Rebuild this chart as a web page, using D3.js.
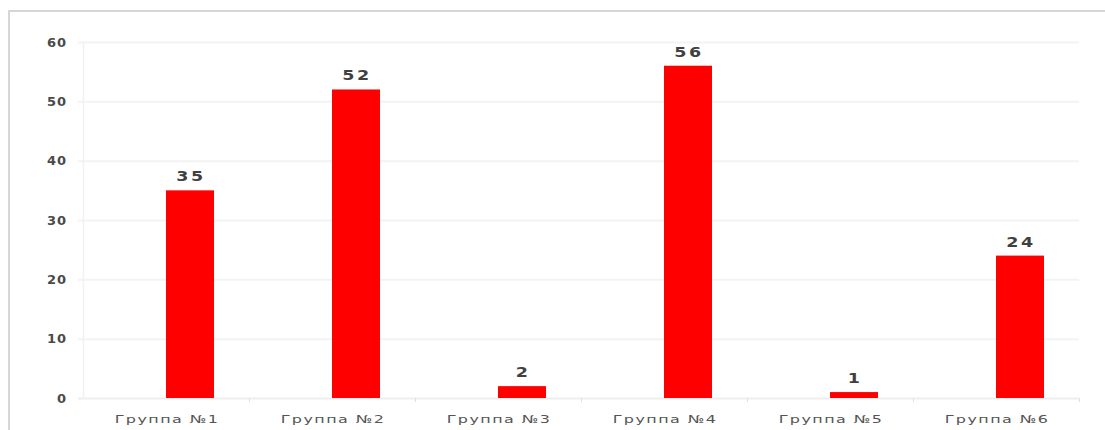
<!DOCTYPE html>
<html><head><meta charset="utf-8">
<script src="https://cdn.jsdelivr.net/npm/d3@7"></script>
<style>
html,body{margin:0;padding:0;background:#fff;}
svg{display:block;}
</style></head>
<body>
<svg id="c" width="1105" height="430"></svg>
<script>
const categories = ["Группа №1","Группа №2","Группа №3","Группа №4","Группа №5","Группа №6"];
const seriesNames = ["empty","value"];
const emptyValues = [0,0,0,0,0,0];
const values = [35,52,2,56,1,24];
const yTicks = [0,10,20,30,40,50,60];

const svg = d3.select("#c");
const W = 1105, H = 430;
const m = {left:83, right:1079, top:42, bottom:398};

// outer frame
svg.append("line").attr("x1",9).attr("x2",W).attr("y1",11).attr("y2",11).attr("stroke","#d6d6d6").attr("stroke-width",2);
svg.append("line").attr("x1",9).attr("x2",9).attr("y1",10).attr("y2",H).attr("stroke","#d6d6d6").attr("stroke-width",2);

const x0 = d3.scaleBand().domain(categories).range([m.left,m.right]).paddingInner(0).paddingOuter(0);
const x1 = d3.scaleBand().domain(seriesNames).range([0,x0.bandwidth()]).paddingInner(0).paddingOuter((x0.bandwidth()-96)/2/48);
const y = d3.scaleLinear().domain([0,60]).range([m.bottom,m.top]);

// gridlines
svg.append("g").selectAll("line").data(yTicks.filter(d=>d>0)).join("line")
  .attr("x1",78).attr("x2",m.right).attr("y1",d=>y(d)+0.5).attr("y2",d=>y(d)+0.5)
  .attr("stroke","#f3f3f3").attr("stroke-width",2);
// vertical axis line
svg.append("line").attr("x1",m.left+0.5).attr("x2",m.left+0.5).attr("y1",m.top).attr("y2",m.bottom)
  .attr("stroke","#f1f1f1").attr("stroke-width",1.5);
// baseline
svg.append("line").attr("x1",78).attr("x2",m.right).attr("y1",m.bottom+0.5).attr("y2",m.bottom+0.5)
  .attr("stroke","#eeeeee").attr("stroke-width",2);
// category boundary ticks
svg.append("g").selectAll("line").data(categories.slice(1)).join("line")
  .attr("x1",d=>x0(d)+0.5).attr("x2",d=>x0(d)+0.5).attr("y1",m.bottom).attr("y2",m.bottom+4)
  .attr("stroke","#e0e0e0").attr("stroke-width",1);
svg.append("line").attr("x1",m.right+0.5).attr("x2",m.right+0.5).attr("y1",m.bottom).attr("y2",m.bottom+4)
  .attr("stroke","#e0e0e0");

// y tick labels
svg.append("g").selectAll("text").data(yTicks).join("text")
  .attr("x",67).attr("y",d=>y(d)).attr("dy","0.35em").attr("text-anchor","end")
  .attr("font-family","DejaVu Sans, Verdana, sans-serif").attr("font-size",13).attr("font-weight","bold")
  .attr("letter-spacing",1).attr("fill","#4a4a4a").text(d=>d);

// bars
const bars = svg.append("g");
bars.selectAll("rect").data(values).join("rect")
  .attr("x",(d,i)=>x0(categories[i])+x1("value"))
  .attr("width",x1.bandwidth())
  .attr("y",d=>y(d))
  .attr("height",d=>y(0)-y(d))
  .attr("fill","#ff0000");

// value labels
svg.append("g").selectAll("text").data(values).join("text")
  .attr("transform",(d,i)=>`translate(${x0(categories[i])+x1("value")+x1.bandwidth()/2+1},${y(d)-9}) scale(1.25,1)`)
  .attr("text-anchor","middle")
  .attr("font-family","DejaVu Sans, Verdana, sans-serif").attr("font-size",14)
  .attr("letter-spacing",2).attr("fill","#404040").attr("font-weight","bold").text(d=>d);

// category labels
svg.append("g").selectAll("text").data(categories).join("text")
  .attr("transform",d=>`translate(${x0(d)+x0.bandwidth()/2+1},423) scale(1.45,1)`)
  .attr("text-anchor","middle")
  .attr("font-family","DejaVu Sans, Verdana, sans-serif").attr("font-size",11)
  .attr("letter-spacing",1).attr("fill","#555").text(d=>d);
</script>
</body></html>
